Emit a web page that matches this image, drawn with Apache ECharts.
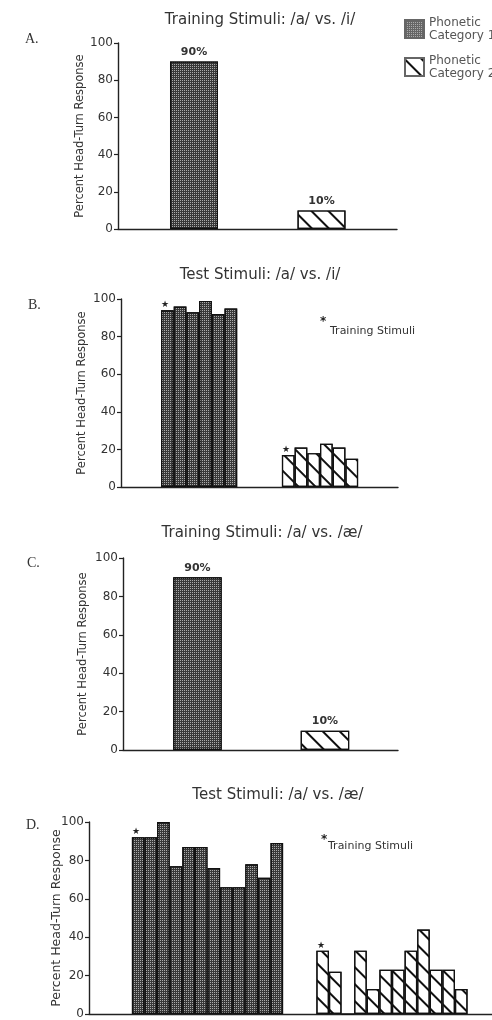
<!DOCTYPE html>
<html>
<head>
<meta charset="utf-8">
<script src="https://cdn.jsdelivr.net/npm/echarts@6/dist/echarts.min.js"></script>
<style>
html,body{margin:0;padding:0;background:#fff;}
#chart{width:492px;height:1020px;}
</style>
</head>
<body>
<div id="chart"></div>
<script>
// ---------- data ----------
const seriesNames = ['Phonetic Category 1', 'Phonetic Category 2'];
const panelLetters = ['A.', 'B.', 'C.', 'D.'];
const panelTitles = ['Training Stimuli: /a/ vs. /i/', 'Test Stimuli: /a/ vs. /i/', 'Training Stimuli: /a/ vs. /\u00e6/', 'Test Stimuli: /a/ vs. /\u00e6/'];
const yAxisName = 'Percent Head-Turn Response';
const yMin = 0, yMax = 100, yStep = 20;
const trainAi = [90, 10];                    // panel A: cat 1, cat 2
const testAi_cat1 = [94, 96, 93, 99, 92, 95];  // panel B
const testAi_cat2 = [17, 21, 18, 23, 21, 15];
const trainAae = [90, 10];                   // panel C
const testAae_cat1 = [92, 92, 100, 77, 87, 87, 76, 66, 66, 78, 71, 89]; // panel D
const testAae_cat2 = [33, 22, 0, 33, 13, 23, 23, 33, 44, 23, 23, 13];
const trainingStimulusIndex = 0;
const trainingNote = 'Training Stimuli';

// ---------- layout / style ----------
const FONT = '"DejaVu Sans", sans-serif';
const layouts = [
  {left:118, top:43,  width:279, height:186, xMin:-0.596, xMax:1.592, barW:48,   nameGap:32},
  {left:121, top:299, width:277, height:188, xMin:-3.65,  xMax:18.16, barW:12.7, nameGap:33, gap2:9.52},
  {left:123, top:558, width:275, height:192, xMin:-0.584, xMax:1.573, barW:48.5, nameGap:34, gap2:0},
  {left:89,  top:822, width:403, height:195, xMin:-3.905, xMax:28.08, barW:12.6, nameGap:26, gap2:14.64}
];
const darkStyle = {
  color:'#383838', borderColor:'#111', borderWidth:1.2,
  decal:{symbol:'rect', symbolSize:1, color:'#ababab', dashArrayX:[1,1], dashArrayY:[1,1], rotation:0}
};
const hatchStyle = {
  color:'#ffffff', borderColor:'#111', borderWidth:1.2,
  decal:{symbol:'rect', symbolSize:1, color:'#111', dashArrayX:[1,0], dashArrayY:[1.7,9.8], rotation:Math.PI/4}
};
const starLabel = {show:true, position:'top', formatter:'\u2605', fontSize:9, color:'#222', distance:1, offset:[-2,0]};
const pctLabel = {show:true, position:'top', distance:4, fontFamily:FONT, fontSize:11, fontWeight:'bold', color:'#333',
  formatter: p => p.value[1] + '%'};

function trainData(vals, idx) { return [[idx, vals[idx]]]; }
function testData(vals, offset) {
  return vals.map((v, i) => {
    const item = {value:[offset + i, v]};
    if (i === trainingStimulusIndex) item.label = starLabel;
    return item;
  });
}

const grids = [], xAxes = [], yAxes = [], series = [];
layouts.forEach((L, k) => {
  grids.push({left:L.left, top:L.top, width:L.width, height:L.height});
  xAxes.push({type:'value', gridIndex:k, min:L.xMin, max:L.xMax,
    axisLine:{show:true, onZero:false, lineStyle:{color:'#222', width:1.4}},
    axisTick:{show:false}, axisLabel:{show:false}, splitLine:{show:false}});
  yAxes.push({type:'value', gridIndex:k, min:yMin, max:yMax, interval:yStep,
    name:yAxisName, nameLocation:'middle', nameRotate:90, nameGap:L.nameGap, nameMoveOverlap:false,
    nameTextStyle:{fontFamily:FONT, fontSize:k===3?12.5:11.5, color:'#333'},
    axisLine:{show:true, onZero:false, lineStyle:{color:'#222', width:1.4}},
    axisTick:{show:true, length:4, lineStyle:{color:'#222', width:1.2}},
    axisLabel:{fontFamily:FONT, fontSize:12, color:'#333', margin:5},
    splitLine:{show:false}});
});

function addSeries(k, name, data, style, label) {
  series.push({type:'bar', name, xAxisIndex:k, yAxisIndex:k, data,
    barWidth:layouts[k].barW, barGap:'-100%', itemStyle:style,
    label: label || {show:false}, silent:true, animation:false});
}
// A
addSeries(0, seriesNames[0], trainData(trainAi, 0), darkStyle, pctLabel);
addSeries(0, seriesNames[1], trainData(trainAi, 1), hatchStyle, pctLabel);
// B
addSeries(1, seriesNames[0], testData(testAi_cat1, 0), darkStyle);
addSeries(1, seriesNames[1], testData(testAi_cat2, layouts[1].gap2), hatchStyle);
// C
addSeries(2, seriesNames[0], trainData(trainAae, 0), darkStyle, pctLabel);
addSeries(2, seriesNames[1], trainData(trainAae, 1), hatchStyle, pctLabel);
// D
addSeries(3, seriesNames[0], testData(testAae_cat1, 0), darkStyle);
addSeries(3, seriesNames[1], testData(testAae_cat2, layouts[3].gap2), hatchStyle);

const titlePos = [[260,20],[260,275],[262,533],[278,795]];
const letterPos = [[25,39],[28,305],[27,563],[26,825]];
const notePos = [[320,322,330,331],[321,840,328,846]];
const graphic = [];
panelTitles.forEach((t, i) => graphic.push({type:'text', x:titlePos[i][0], y:titlePos[i][1],
  style:{text:t, font:'15px ' + FONT, fill:'#333', textAlign:'center', textVerticalAlign:'middle'}}));
panelLetters.forEach((t, i) => graphic.push({type:'text', x:letterPos[i][0], y:letterPos[i][1],
  style:{text:t, font:'14px "Liberation Serif", serif', fill:'#333', textAlign:'left', textVerticalAlign:'middle'}}));
notePos.forEach(p => {
  graphic.push({type:'text', x:p[0], y:p[1], style:{text:'*', font:'bold 12px ' + FONT, fill:'#222', textAlign:'left', textVerticalAlign:'middle'}});
  graphic.push({type:'text', x:p[2], y:p[3], style:{text:trainingNote, font:'11px ' + FONT, fill:'#333', textAlign:'left', textVerticalAlign:'middle'}});
});

const chart = echarts.init(document.getElementById('chart'), null, {renderer:'canvas'});
chart.setOption({
  animation:false,
  backgroundColor:'#ffffff',
  grid:grids, xAxis:xAxes, yAxis:yAxes, series,
  legend:{orient:'vertical', left:404, top:16, padding:0, itemWidth:19, itemHeight:18, itemGap:12,
    selectedMode:false, icon:'rect',
    data:[{name:seriesNames[0], itemStyle:{color:'#666', borderColor:'#666'}},
          {name:seriesNames[1], itemStyle:{borderColor:'#666'}}],
    formatter: n => n.replace(' ', '\n'),
    textStyle:{fontFamily:FONT, fontSize:12, lineHeight:13, color:'#555'}},
  graphic
});
</script>
</body>
</html>
